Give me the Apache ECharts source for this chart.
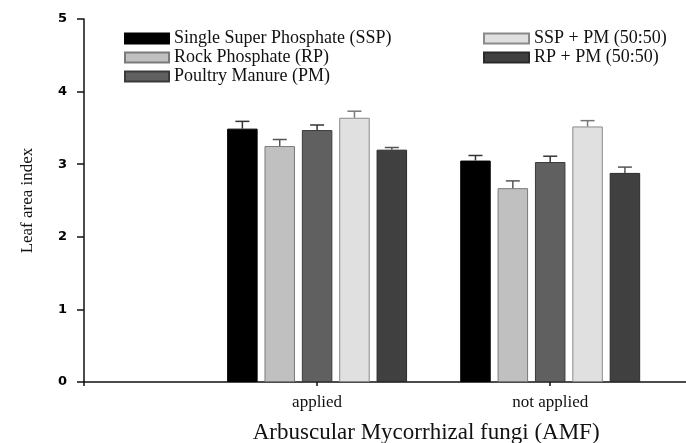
<!DOCTYPE html>
<html>
<head>
<meta charset="utf-8">
<script src="https://cdn.jsdelivr.net/npm/echarts@6/dist/echarts.min.js"></script>
<style>html,body{margin:0;padding:0;background:#fff}#c{width:686px;height:443px}</style>
</head>
<body>
<div id="c"></div>
<script>
// ---- data ----
const categories = ['', 'applied', 'not applied', ''];
const seriesNames = ['Single Super Phosphate (SSP)', 'Rock Phosphate (RP)', 'Poultry Manure (PM)', 'SSP + PM (50:50)', 'RP + PM (50:50)'];
const ssp     = [3.49, 3.05];
const rp      = [3.25, 2.67];
const pm      = [3.47, 3.03];
const ssppm   = [3.64, 3.52];
const rppm    = [3.20, 2.88];
const sspErr  = [0.10, 0.07];
const rpErr   = [0.09, 0.10];
const pmErr   = [0.07, 0.08];
const ssppmErr= [0.09, 0.08];
const rppmErr = [0.03, 0.08];
const yTicks = [0, 1, 2, 3, 4, 5];

// ---- styles ----
const fills   = ['#000000', '#c0c0c0', '#606060', '#e0e0e0', '#404040'];
const borders = ['#000000', '#7a7a7a', '#3a3a3a', '#8a8a8a', '#2a2a2a'];
const capCol  = ['#333333', '#555555', '#333333', '#777777', '#555555'];
const BAR_W = 30.5;
const BAR_GAP = 0.225;

const values = [ssp, rp, pm, ssppm, rppm];
const errs = [sspErr, rpErr, pmErr, ssppmErr, rppmErr];

function pad(arr) { return [null, arr[0], arr[1], null]; }

const series = [];
values.forEach((v, i) => {
  series.push({
    name: seriesNames[i],
    type: 'bar',
    data: pad(v),
    barWidth: BAR_W,
    barGap: (BAR_GAP * 100) + '%',
    itemStyle: { color: fills[i], borderColor: borders[i], borderWidth: 1 },
    z: 2
  });
});
values.forEach((v, i) => {
  const d = [];
  v.forEach((val, k) => d.push([k + 1, val, errs[i][k]]));
  const offset = (i - 2) * BAR_W * (1 + BAR_GAP);
  series.push({
    type: 'custom',
    name: seriesNames[i] + ' err',
    data: d,
    z: 3,
    silent: true,
    renderItem: function (params, api) {
      const x = api.value(0), y = api.value(1), e = api.value(2);
      const p0 = api.coord([x, y]);
      const p1 = api.coord([x, y + e]);
      const cx = p0[0] + offset;
      const hw = 7;
      return {
        type: 'group',
        children: [
          { type: 'line', shape: { x1: cx, y1: p0[1], x2: cx, y2: p1[1] }, style: { stroke: capCol[i], lineWidth: 1.5 } },
          { type: 'line', shape: { x1: cx - hw, y1: p1[1], x2: cx + hw, y2: p1[1] }, style: { stroke: capCol[i], lineWidth: 1.5 } }
        ]
      };
    }
  });
});

const legendText = { fontFamily: 'Liberation Serif', fontSize: 18, color: '#111', lineHeight: 19 };

const option = {
  animation: false,
  backgroundColor: '#fff',
  grid: { left: 84, top: 19, bottom: 61, width: 699.3, containLabel: false, outerBoundsMode: 'none' },
  legend: [
    {
      data: seriesNames.slice(0, 3), orient: 'vertical', left: 119, top: 24,
      itemWidth: 44, itemHeight: 10, itemGap: 0, textStyle: legendText, icon: 'rect',
      selectedMode: false
    },
    {
      data: seriesNames.slice(3), orient: 'vertical', left: 478, top: 24,
      itemWidth: 45, itemHeight: 10, itemGap: 0, textStyle: legendText, icon: 'rect',
      selectedMode: false
    }
  ],
  xAxis: {
    type: 'category',
    data: categories,
    boundaryGap: false,
    name: 'Arbuscular Mycorrhizal fungi (AMF)',
    nameLocation: 'middle',
    nameGap: 39,
    nameTextStyle: { fontFamily: 'Liberation Serif', fontSize: 23, color: '#111', padding: [0, 15, 0, 0] },
    axisLine: { lineStyle: { color: '#111', width: 1.5 } },
    axisTick: { show: true, length: 4, lineStyle: { color: '#111', width: 1.5 } },
    axisLabel: { margin: 12, fontFamily: 'Liberation Serif', fontSize: 17, color: '#111' },
    splitLine: { show: false }
  },
  yAxis: {
    type: 'value',
    min: yTicks[0], max: yTicks[yTicks.length - 1], interval: 1,
    name: 'Leaf area index',
    nameLocation: 'middle',
    nameGap: 48,
    nameTextStyle: { fontFamily: 'Liberation Serif', fontSize: 17, color: '#111' },
    axisLine: { show: true, lineStyle: { color: '#111', width: 1.5 } },
    axisTick: { show: true, length: 7, lineStyle: { color: '#111', width: 1.5 } },
    axisLabel: { margin: 17, fontFamily: 'DejaVu Sans', fontWeight: 'bold', fontSize: 13, color: '#000' },
    splitLine: { show: false }
  },
  series: series
};

const chart = echarts.init(document.getElementById('c'));
chart.setOption(option);
</script>
</body>
</html>
